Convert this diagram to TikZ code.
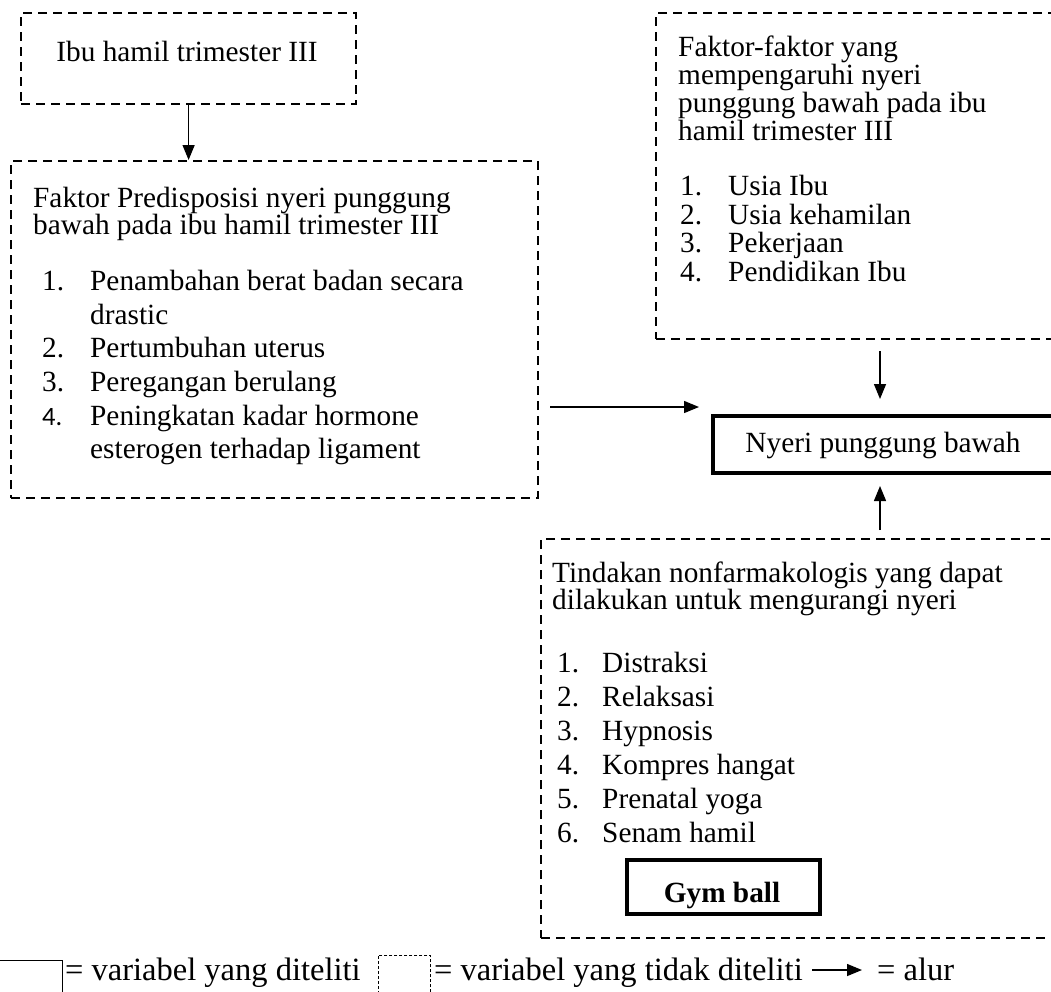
\documentclass[tikz,border=0pt]{standalone}
\usepackage{fontspec}
\setmainfont{Liberation Serif}
\newfontfamily\calibrifont{Carlito}
\usetikzlibrary{arrows.meta}

\begin{document}
\begin{tikzpicture}[x=1pt, y=-1pt,
  font=\fontsize{29.3}{27.5}\selectfont,
  dashbox/.style={draw, line width=2.2pt, dash pattern=on 9pt off 6pt, inner sep=0pt, anchor=north west},
  varbox/.style={draw, line width=4pt, inner sep=0pt, anchor=north west},
  flow/.style={-{Triangle[length=15pt,width=12pt]}, line width=1.4pt},
  txt/.style={anchor=base west, inner sep=0pt},
  legtxt/.style={anchor=base west, inner sep=0pt, font=\fontsize{32.5}{34}\selectfont}]

\path[use as bounding box, clip] (0,0) rectangle (1051,991);

% Ibu hamil trimester III
\node[dashbox, minimum width=335pt, minimum height=91pt] (ibu) at (20,12) {};
\node[anchor=base, inner sep=0pt] (ibuTxt) at (187,61) {Ibu hamil trimester III};

% Faktor predisposisi
\node[dashbox, minimum width=527pt, minimum height=337pt] (predis) at (10,160) {};
\node[txt] (predisH1) at (33,207) {Faktor Predisposisi nyeri punggung};
\node[txt] (predisH2) at (33,234) {bawah pada ibu hamil trimester III};
\foreach \n/\y/\t in {1/290/Penambahan berat badan secara, 2/357/Pertumbuhan uterus, 3/391/Peregangan berulang} {
  \node[txt] (predisN\n) at (42,\y) {\n.};
  \node[txt] (predisT\n) at (90,\y) {\t};
}
\node[txt] (predisT1b) at (90,324) {drastic};
\node[txt, font=\calibrifont\fontsize{26.5}{27.5}\selectfont] (predisN4) at (42,425) {4.};
\node[txt] (predisT4) at (90,425) {Peningkatan kadar hormone};
\node[txt] (predisT4b) at (90,458) {esterogen terhadap ligament};

% Faktor-faktor yang mempengaruhi
\node[dashbox, minimum width=405pt, minimum height=326pt] (faktor) at (655,12) {};
\foreach \y/\t [count=\k] in {56/Faktor-faktor yang, 84/mempengaruhi nyeri, 112/punggung bawah pada ibu, 140/hamil trimester III} {
  \node[txt] (faktorH\k) at (678,\y) {\t};
}
\foreach \n/\y/\t in {1/195/Usia Ibu, 2/224/Usia kehamilan, 3/252/Pekerjaan, 4/281/Pendidikan Ibu} {
  \node[txt] (faktorN\n) at (680,\y) {\n.};
  \node[txt] (faktorT\n) at (728,\y) {\t};
}

% Nyeri punggung bawah
\node[varbox, minimum width=349pt, minimum height=57pt] (nyeri) at (711,414) {};
\node[anchor=base, inner sep=0pt] (nyeriTxt) at (883,452) {Nyeri punggung bawah};

% Tindakan nonfarmakologis
\node[dashbox, minimum width=520pt, minimum height=399pt] (tindakan) at (540,538) {};
\node[txt] (tindakanH1) at (552,582) {Tindakan nonfarmakologis yang dapat};
\node[txt] (tindakanH2) at (552,609) {dilakukan untuk mengurangi nyeri};
\foreach \n/\y/\t in {1/672/Distraksi, 2/706/Relaksasi, 3/740/Hypnosis, 4/774/Kompres hangat, 5/808/Prenatal yoga, 6/842/Senam hamil} {
  \node[txt] (tindakanN\n) at (557,\y) {\n.};
  \node[txt] (tindakanT\n) at (602,\y) {\t};
}
\node[varbox, minimum width=193pt, minimum height=54pt] (gym) at (625,858) {};
\node[anchor=base, inner sep=0pt] (gymTxt) at (722,902) {\bfseries Gym ball};

% Alur
\coordinate (fromPredis) at (550,407);
\coordinate (colNyeri) at (880,0);
\draw[flow] (ibu.south) -- (ibu.south |- predis.north);
\draw[flow, shorten >=12pt] (fromPredis) -- (fromPredis -| nyeri.west);
\draw[flow, shorten <=11pt, shorten >=15pt] (faktor.south -| colNyeri) -- (nyeri.north -| colNyeri);
\draw[flow, shorten <=8pt, shorten >=11pt] (tindakan.north -| colNyeri) -- (nyeri.south -| colNyeri);

% Keterangan
\node[draw, line width=1.2pt, inner sep=0pt, anchor=north west, minimum width=70pt, minimum height=50pt] (legVar) at (-8,960) {};
\node[legtxt] (legVarTxt) at (65,980) {= variabel yang diteliti};
\node[draw, line width=0.9pt, dash pattern=on 3pt off 2pt, inner sep=0pt, anchor=north west, minimum width=52pt, minimum height=50pt] (legDash) at (378,955) {};
\node[legtxt] (legDashTxt) at (434,980) {= variabel yang tidak diteliti};
\coordinate (legA) at (812,970);
\coordinate (legB) at (862,970);
\draw[flow] (legA) -- (legB);
\node[legtxt] (legAlurTxt) at (877,980) {= alur};

\end{tikzpicture}
\end{document}
